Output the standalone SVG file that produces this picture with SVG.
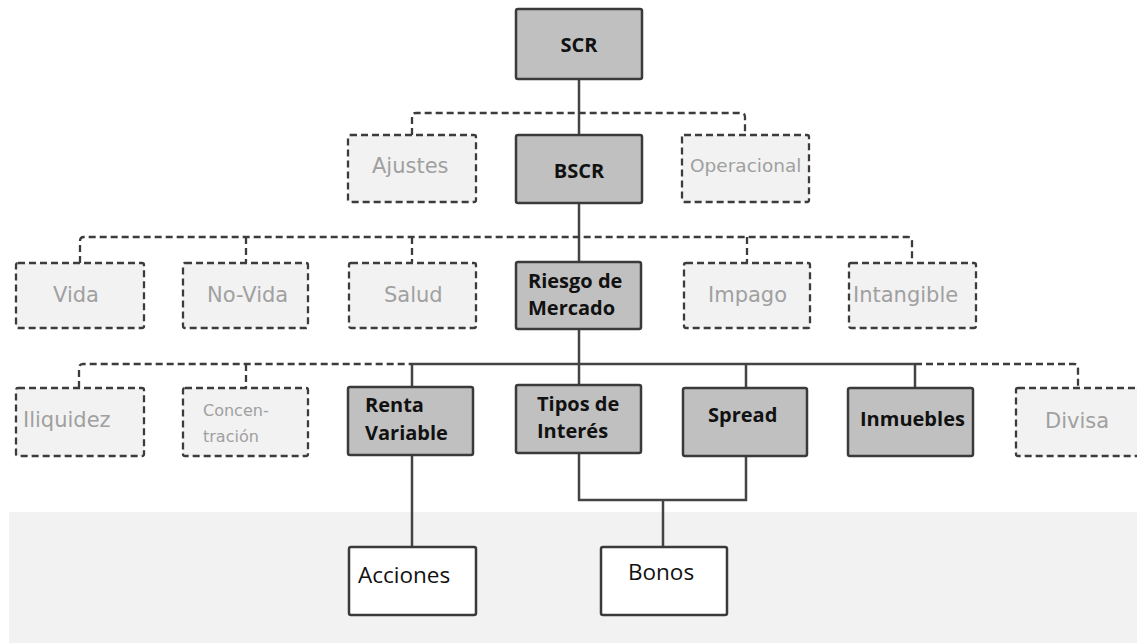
<svg xmlns="http://www.w3.org/2000/svg" width="1137" height="643" viewBox="0 0 1137 643">
<style>
.g{fill:#c0c0c0;stroke:#3a3a3a;stroke-width:2.5}
.d{fill:#f2f2f2;stroke:#3c3c3c;stroke-width:2.3;stroke-dasharray:7 4}
.w{fill:#fff;stroke:#3a3a3a;stroke-width:2.5}
.s{fill:none;stroke:#444;stroke-width:2.5}
.dl{fill:none;stroke:#3c3c3c;stroke-width:2.3;stroke-dasharray:7 4}
.lt{font-family:"DejaVu Sans",sans-serif;font-size:21px;fill:#a0a0a0}
.bt{font-family:"Open Sans",sans-serif;font-weight:bold;font-size:20px;fill:#111}
.nt{font-family:"Open Sans",sans-serif;font-size:22.5px;fill:#111}
</style>
<rect x="0" y="0" width="1137" height="643" fill="#fff"/>
<rect x="9" y="512" width="1128" height="131" fill="#f2f2f2"/>
<g id="connectors">
<path class="s" d="M579,79V135M579,203V262M579,329V385"/>
<path class="dl" d="M412,135V117Q412,113 416,113H741Q745,113 745,117V135"/>
<path class="dl" d="M80,263V241Q80,237 84,237H908Q912,237 912,241V263M246,237V263M412,237V263M747,237V263"/>
<path class="dl" d="M79,388V368Q79,364 83,364H412M246,364V388"/>
<path class="s" d="M412,364H915M412,364V387M746,364V388M915,364V388"/>
<path class="dl" d="M915,364H1074Q1078,364 1078,368V388"/>
<path class="s" d="M412,455V547M579,453V500H746V456M663,500V547"/>
</g>
<g id="scr"><rect class="g" x="516" y="9" width="126" height="70" rx="2"/><text class="bt" x="579" y="52" text-anchor="middle">SCR</text></g>
<g id="bscr"><rect class="g" x="516" y="135" width="126" height="68" rx="2"/><text class="bt" x="579" y="178" text-anchor="middle">BSCR</text></g>
<g id="ajustes"><rect class="d" x="348" y="135" width="128" height="67" rx="2"/><text class="lt" x="372" y="173">Ajustes</text></g>
<g id="operacional"><rect class="d" x="682" y="135" width="127" height="67" rx="2"/><text class="lt" x="690" y="172" style="font-size:18.5px">Operacional</text></g>
<g id="vida"><rect class="d" x="16" y="263" width="128" height="65" rx="2"/><text class="lt" x="53" y="302">Vida</text></g>
<g id="novida"><rect class="d" x="183" y="263" width="125" height="65" rx="2"/><text class="lt" x="207" y="302">No-Vida</text></g>
<g id="salud"><rect class="d" x="349" y="263" width="127" height="65" rx="2"/><text class="lt" x="384" y="302">Salud</text></g>
<g id="mercado"><rect class="g" x="516" y="262" width="125" height="67" rx="2"/><text class="bt" x="528" y="288">Riesgo de</text><text class="bt" x="528" y="315">Mercado</text></g>
<g id="impago"><rect class="d" x="684" y="263" width="126" height="65" rx="2"/><text class="lt" x="708" y="302">Impago</text></g>
<g id="intangible"><rect class="d" x="849" y="263" width="127" height="65" rx="2"/><text class="lt" x="853" y="302">Intangible</text></g>
<g id="iliquidez"><rect class="d" x="16" y="388" width="128" height="68" rx="2"/><text class="lt" x="23" y="427">Iliquidez</text></g>
<g id="concentracion"><rect class="d" x="183" y="388" width="125" height="68" rx="2"/><text class="lt" x="203" y="416" style="font-size:16px">Concen-</text><text class="lt" x="203" y="442" style="font-size:16px">tración</text></g>
<g id="renta"><rect class="g" x="348" y="387" width="125" height="68" rx="2"/><text class="bt" x="365" y="412">Renta</text><text class="bt" x="365" y="440">Variable</text></g>
<g id="tipos"><rect class="g" x="516" y="385" width="125" height="68" rx="2"/><text class="bt" x="537" y="411">Tipos de</text><text class="bt" x="537" y="438">Interés</text></g>
<g id="spread"><rect class="g" x="683" y="388" width="124" height="68" rx="2"/><text class="bt" x="708" y="422">Spread</text></g>
<g id="inmuebles"><rect class="g" x="848" y="388" width="125" height="68" rx="2"/><text class="bt" x="860" y="426">Inmuebles</text></g>
<g id="divisa"><rect class="d" x="1016" y="388" width="130" height="68" rx="2"/><text class="lt" x="1045" y="428">Divisa</text></g>
<g id="acciones"><rect class="w" x="349" y="547" width="127" height="68" rx="2"/><text class="nt" x="358" y="583">Acciones</text></g>
<g id="bonos"><rect class="w" x="601" y="547" width="126" height="68" rx="2"/><text class="nt" x="628" y="580">Bonos</text></g>
</svg>
